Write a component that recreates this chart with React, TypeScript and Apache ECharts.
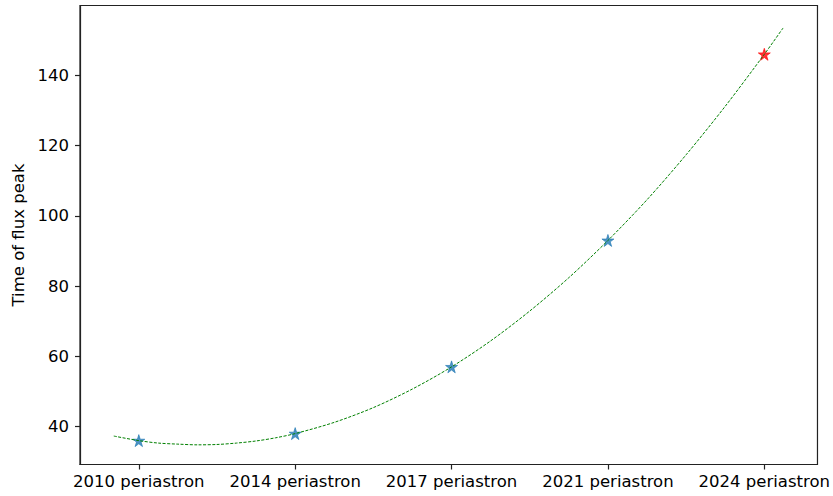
import React, { useEffect, useRef } from "react";
import * as echarts from "echarts";

const categories = ["2010 periastron", "2014 periastron", "2017 periastron", "2021 periastron", "2024 periastron"];
const peakTimes = [36, 38, 57, 93];
const predictedPeak = 146;
const yTicks = [40, 60, 80, 100, 120, 140];
// fitted curve: [x position, value]
const fitCurve: [number, number][] = [
  [-0.16, 37.3], [0, 36.0], [0.125, 35.3], [0.25, 35.0], [0.375, 34.8], [0.5, 34.9], [0.625, 35.3],
  [0.75, 35.9], [0.875, 36.8], [1, 38.0], [1.25, 41.2],
  [1.5, 45.4], [1.75, 50.7], [2, 57.0], [2.25, 64.4], [2.5, 72.9], [2.75, 82.4], [3, 93.0],
  [3.25, 104.6], [3.5, 117.4], [3.75, 131.2], [4, 146.0], [4.12, 153.5],
];

const STAR = "path://M0,-1L0.2245,-0.309L0.951,-0.309L0.363,0.118L0.588,0.809L0,0.382L-0.588,0.809L-0.363,0.118L-0.951,-0.309L-0.2245,-0.309Z";

export default function App() {
  const ref = useRef<HTMLDivElement>(null);
  useEffect(() => {
    document.body.style.margin = "0";
    const chart = echarts.init(ref.current!, null, { renderer: "svg" });
    const font = "DejaVu Sans";
    const axisLine = { show: true, onZero: false, lineStyle: { color: "#222", width: 1.2 } };
    chart.setOption({
      animation: false,
      grid: { left: 80, right: 13.5, top: 5.5, bottom: 31.5, show: true, borderColor: "#222", borderWidth: 1.2 },
      xAxis: {
        type: "value",
        min: -0.376,
        max: 4.34,
        axisLine,
        splitLine: { show: false },
        axisTick: { show: true, length: 5, customValues: [0, 1, 2, 3, 4], lineStyle: { color: "#222", width: 1.2 } },
        axisLabel: {
          customValues: [0, 1, 2, 3, 4],
          formatter: (v: number) => categories[Math.round(v)] ?? "",
          color: "#000",
          fontFamily: font,
          fontSize: 16.5,
          margin: 8,
        },
      },
      yAxis: {
        type: "value",
        min: 29.2,
        max: 159.9,
        name: "Time of flux peak",
        nameLocation: "middle",
        nameGap: 52,
        nameTextStyle: { color: "#000", fontFamily: font, fontSize: 16.5 },
        axisLine,
        splitLine: { show: false },
        axisTick: { show: true, length: 5, customValues: yTicks, lineStyle: { color: "#222", width: 1.2 } },
        axisLabel: { customValues: yTicks, color: "#000", fontFamily: font, fontSize: 16.5, margin: 11 },
      },
      series: [
        {
          type: "scatter",
          data: peakTimes.map((v, i) => [i, v]),
          symbol: STAR,
          symbolSize: 12,
          itemStyle: { color: "#1f77b4", borderColor: "#1f77b4", borderWidth: 0.8 },
          z: 2,
        },
        {
          type: "scatter",
          data: [[4, predictedPeak]],
          symbol: STAR,
          symbolSize: 12,
          itemStyle: { color: "#ff0000", borderColor: "#ff0000", borderWidth: 0.8 },
          z: 2,
        },
        {
          type: "line",
          data: fitCurve,
          smooth: 0.3,
          showSymbol: false,
          lineStyle: { color: "#008000", width: 1, type: [3, 1.5] },
          z: 3,
        },
      ],
    });
    return () => chart.dispose();
  }, []);
  return <div ref={ref} style={{ width: 833, height: 496 }} />;
}
